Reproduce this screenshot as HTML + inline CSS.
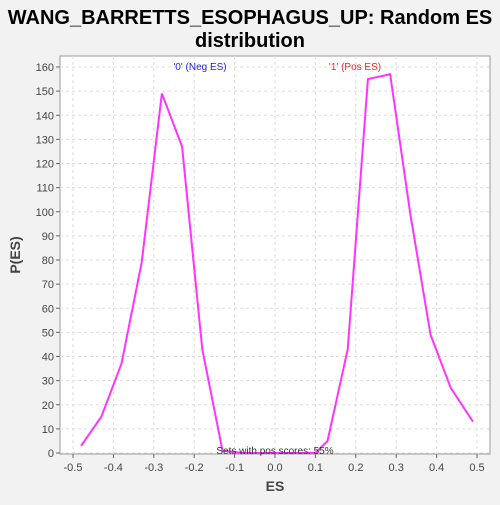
<!DOCTYPE html>
<html><head><meta charset="utf-8"><style>
body{margin:0;background:#f2f2f2;font-family:"Liberation Sans",sans-serif;}
svg text{font-family:"Liberation Sans",sans-serif;}
</style></head><body>
<svg width="500" height="500">
<text x="250" y="24" text-anchor="middle" font-size="20" font-weight="bold">WANG_BARRETTS_ESOPHAGUS_UP: Random ES</text>
<text x="250" y="47" text-anchor="middle" font-size="20" font-weight="bold">distribution</text>
<rect x="60" y="56" width="430" height="398" fill="#fff" stroke="#999"/>
<g id="grid"></g><g id="axes"></g>
<text x="20" y="255" transform="rotate(-90 20 255)" text-anchor="middle" font-size="14" font-weight="bold" fill="#444">P(ES)</text>
<text x="275" y="491" text-anchor="middle" font-size="14" font-weight="bold" fill="#444">ES</text>
<text x="200" y="70" text-anchor="middle" font-size="10" fill="#2222ee">'0' (Neg ES)</text>
<text x="355" y="70" text-anchor="middle" font-size="10" fill="#ee2222">'1' (Pos ES)</text>
<polyline id="line" fill="none" stroke="#ff33ff" stroke-width="2"/>
<text x="275" y="454" text-anchor="middle" font-size="10" fill="#333">Sets with pos scores: 55%</text>
</svg>
<script>
const xs=[-0.48,-0.43,-0.38,-0.33,-0.28,-0.23,-0.18,-0.13,-0.08,0.04,0.10,0.13,0.18,0.23,0.285,0.335,0.385,0.435,0.49];
const ys=[3,15,37,79,149,127,43,1,0,0,0,5,43,155,157,99,49,27,13];
const xTicks=[-0.5,-0.4,-0.3,-0.2,-0.1,0.0,0.1,0.2,0.3,0.4,0.5];
const yTicks=[0,10,20,30,40,50,60,70,80,90,100,110,120,130,140,150,160];
const X=v=>275+v*404, Y=v=>453-v*2.4125;
const ns="http://www.w3.org/2000/svg";
const g=document.getElementById('grid'), a=document.getElementById('axes');
function mk(p,t,at){const e=document.createElementNS(ns,t);for(const k in at)e.setAttribute(k,at[k]);p.appendChild(e);return e;}
xTicks.forEach(v=>{
 const l=mk(g,'line',{x1:X(v),x2:X(v),y1:56,y2:454,stroke:'#ddd','stroke-dasharray':'3,3'});
 
 
 mk(a,'line',{x1:X(v),x2:X(v),y1:454,y2:458,stroke:'#666'});
 const t=mk(a,'text',{x:X(v),y:471,'text-anchor':'middle','font-size':'11',fill:'#444'});t.textContent=v.toFixed(1);
 
 
});
yTicks.forEach(v=>{
 const l=mk(g,'line',{x1:60,x2:490,y1:Y(v),y2:Y(v),stroke:'#ddd','stroke-dasharray':'3,3'});
 
 
 mk(a,'line',{x1:56,x2:60,y1:Y(v),y2:Y(v),stroke:'#666'});
 const t=mk(a,'text',{x:54,y:Y(v)+4,'text-anchor':'end','font-size':'11',fill:'#444'});t.textContent=v;
 
 
});
document.getElementById('line').setAttribute('points',xs.map((x,i)=>X(x)+','+Y(ys[i])).join(' '));
</script>
</body></html>
